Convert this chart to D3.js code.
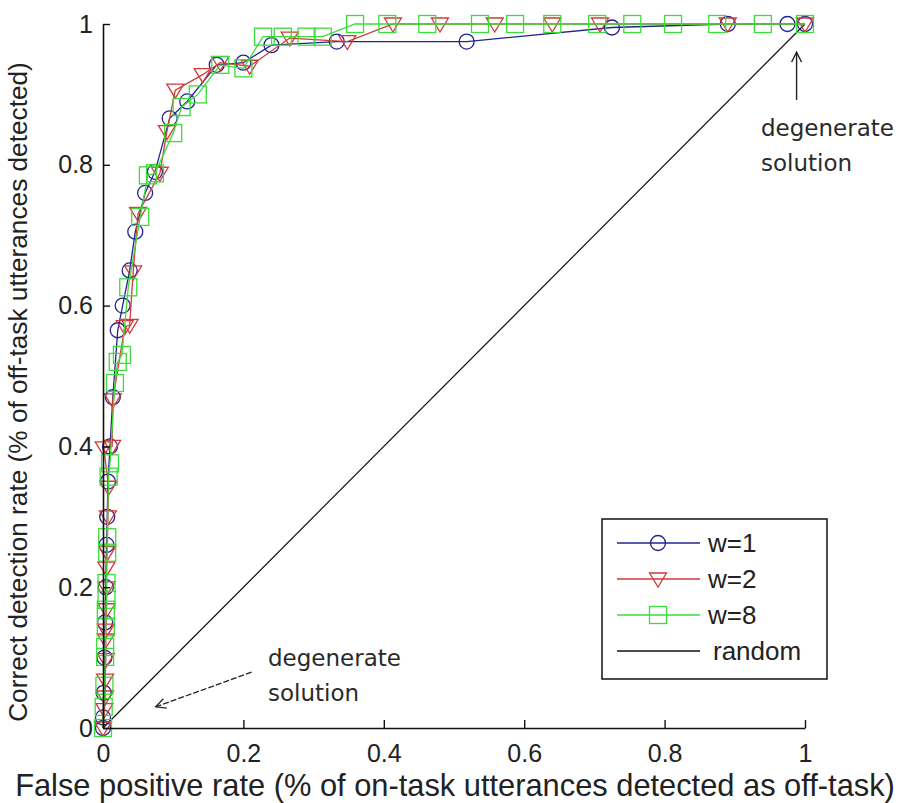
<!DOCTYPE html>
<html>
<head>
<meta charset="utf-8">
<script src="https://cdn.jsdelivr.net/npm/d3@7"></script>
<style>
  html, body { margin: 0; padding: 0; background: #fff; }
  svg { display: block; }
  text { font-family: "Liberation Sans", Arial, sans-serif; fill: #222; }
  .note { font-family: "DejaVu Sans", "Noto Sans", sans-serif; fill: #2a2a2a; }
</style>
</head>
<body>
<div id="chart"></div>
<script>
// ROC curves: [false positive rate, detection rate]
const w1Points = [
  [0, 0], [0, 0.015], [0.001, 0.05], [0.002, 0.1], [0.003, 0.15], [0.004, 0.2],
  [0.005, 0.26], [0.006, 0.3], [0.007, 0.35], [0.01, 0.4], [0.014, 0.47],
  [0.021, 0.565], [0.028, 0.6], [0.038, 0.65], [0.046, 0.705], [0.06, 0.76],
  [0.074, 0.79], [0.095, 0.866], [0.12, 0.89], [0.162, 0.942], [0.2, 0.945],
  [0.24, 0.97], [0.333, 0.975], [0.518, 0.975], [0.725, 0.995], [0.89, 1],
  [0.975, 1], [1, 1]
];
const w2Points = [
  [0, 0], [0.002, 0.026], [0.003, 0.044], [0.003, 0.068], [0.004, 0.097],
  [0.004, 0.125], [0.004, 0.139], [0.005, 0.168], [0.005, 0.199], [0.005, 0.227],
  [0.006, 0.249], [0.007, 0.3], [0.008, 0.342], [0.001, 0.398], [0.013, 0.4],
  [0.014, 0.466], [0.031, 0.57], [0.038, 0.572], [0.043, 0.648], [0.05, 0.731],
  [0.081, 0.788], [0.091, 0.847], [0.103, 0.906], [0.142, 0.928], [0.167, 0.945],
  [0.209, 0.94], [0.266, 0.98], [0.348, 0.975], [0.413, 1], [0.48, 1],
  [0.558, 1], [0.64, 1], [0.708, 1], [0.89, 1], [1, 1]
];
const w8Points = [
  [0, 0], [0.001, 0.03], [0.002, 0.06], [0.003, 0.101], [0.003, 0.115],
  [0.004, 0.143], [0.004, 0.168], [0.005, 0.182], [0.005, 0.206], [0.006, 0.249],
  [0.006, 0.271], [0.008, 0.357], [0.01, 0.376], [0.017, 0.49], [0.021, 0.52],
  [0.027, 0.53], [0.036, 0.626], [0.053, 0.726], [0.064, 0.785], [0.074, 0.788],
  [0.1, 0.845], [0.112, 0.882], [0.135, 0.9], [0.167, 0.942], [0.2, 0.937],
  [0.228, 0.982], [0.256, 0.982], [0.29, 0.982], [0.313, 0.982], [0.359, 1],
  [0.405, 1], [0.462, 1], [0.537, 1], [0.587, 1], [0.64, 1], [0.704, 1],
  [0.754, 1], [0.812, 1], [0.875, 1], [0.94, 1], [1, 1]
];
const randomPoints = [[0, 0], [1, 1]];

const seriesNames = ['w=1', 'w=2', 'w=8', 'random'];
const tickValues = [0, 0.2, 0.4, 0.6, 0.8, 1];
const xTitle = 'False positive rate (% of on-task utterances detected as off-task)';
const yTitle = 'Correct detection rate (% of off-task utterances detected)';
const noteText = ['degenerate', 'solution'];

const width = 909, height = 803;
const plot = { left: 103, right: 805, top: 24, bottom: 728 };

const x = d3.scaleLinear().domain([0, 1]).range([plot.left, plot.right]);
const y = d3.scaleLinear().domain([0, 1]).range([plot.bottom, plot.top]);

const svg = d3.select('#chart').append('svg')
  .attr('width', width)
  .attr('height', height);

// --- series styles ---
const series = [
  { name: seriesNames[0], pts: w1Points, color: '#23238f', marker: 'circle' },
  { name: seriesNames[1], pts: w2Points, color: '#d23a3a', marker: 'triangle' },
  { name: seriesNames[2], pts: w8Points, color: '#3cdc3c', marker: 'square' }
];

function drawMarker(g, type, color) {
  if (type === 'circle') {
    g.append('circle').attr('r', 7.5)
      .attr('fill', 'none').attr('stroke', color).attr('stroke-width', 1.3);
  } else if (type === 'triangle') {
    g.append('path').attr('d', 'M-8.5,-6 L8.5,-6 L0,8 Z')
      .attr('fill', 'none').attr('stroke', color).attr('stroke-width', 1.3);
  } else {
    g.append('rect').attr('x', -8.5).attr('y', -8.5).attr('width', 17).attr('height', 17)
      .attr('fill', 'none').attr('stroke', color).attr('stroke-width', 1.3);
  }
}

const line = d3.line().x(d => x(d[0])).y(d => y(d[1]));

// random diagonal
svg.append('path')
  .datum(randomPoints)
  .attr('fill', 'none')
  .attr('stroke', '#111')
  .attr('stroke-width', 1.2)
  .attr('d', line);

series.forEach(s => {
  svg.append('path')
    .datum(s.pts)
    .attr('fill', 'none')
    .attr('stroke', s.color)
    .attr('stroke-width', 1.3)
    .attr('d', line);
  svg.append('g').selectAll('g')
    .data(s.pts)
    .join('g')
    .attr('transform', d => `translate(${x(d[0])},${y(d[1])})`)
    .each(function() { drawMarker(d3.select(this), s.marker, s.color); });
});

// --- axes (left & bottom only, ticks inward) ---
const xAxis = svg.append('g')
  .attr('transform', `translate(0,${plot.bottom})`)
  .call(d3.axisTop(x).tickValues(tickValues).tickSize(8).tickSizeOuter(0).tickFormat(d3.format('~g')));
xAxis.select('.domain').attr('stroke', '#111').attr('stroke-width', 1.6);
xAxis.selectAll('.tick line').attr('stroke', '#111').attr('stroke-width', 1.4);
xAxis.selectAll('.tick text')
  .attr('y', 16).attr('dy', '0.71em')
  .attr('font-size', 25).attr('fill', '#222');

const yAxis = svg.append('g')
  .attr('transform', `translate(${plot.left},0)`)
  .call(d3.axisRight(y).tickValues(tickValues).tickSize(7).tickSizeOuter(0).tickFormat(d3.format('~g')));
yAxis.select('.domain').attr('stroke', '#111').attr('stroke-width', 1.6);
yAxis.selectAll('.tick line').attr('stroke', '#111').attr('stroke-width', 1.4);
yAxis.selectAll('.tick text')
  .attr('x', -10).attr('text-anchor', 'end')
  .attr('font-size', 25).attr('fill', '#222');
yAxis.attr('font-family', null);
xAxis.attr('font-family', null);

// --- axis titles, sized to span like the reference ---
function fitText(sel, target) {
  const len = sel.node().getComputedTextLength();
  const fs = parseFloat(sel.attr('font-size'));
  sel.attr('font-size', fs * target / len);
}
const xt = svg.append('text')
  .attr('x', 455).attr('y', 796)
  .attr('text-anchor', 'middle')
  .attr('font-size', 24)
  .text(xTitle);
fitText(xt, 880);

const yt = svg.append('text')
  .attr('transform', 'translate(27,392) rotate(-90)')
  .attr('text-anchor', 'middle')
  .attr('font-size', 24)
  .text(yTitle);
fitText(yt, 660);

// --- legend ---
const legend = svg.append('g').attr('transform', 'translate(602,519)');
legend.append('rect')
  .attr('width', 225).attr('height', 160)
  .attr('fill', '#fff').attr('stroke', '#111').attr('stroke-width', 1.5);

const legendItems = series.concat([{ name: seriesNames[3], color: '#111', marker: null }]);
legendItems.forEach((s, i) => {
  const row = legend.append('g').attr('transform', `translate(0,${24 + i * 36})`);
  row.append('line')
    .attr('x1', 15).attr('x2', 98)
    .attr('stroke', s.color).attr('stroke-width', 1.3);
  if (s.marker) {
    const m = row.append('g').attr('transform', 'translate(56,0)');
    drawMarker(m, s.marker, s.color);
  }
  row.append('text')
    .attr('x', s.marker ? 106 : 111)
    .attr('dy', '0.36em')
    .attr('font-size', 26)
    .text(s.name);
});

// --- annotations ---
const defs = svg.append('defs');
defs.append('marker')
  .attr('id', 'arrowhead')
  .attr('viewBox', '0 0 12 12')
  .attr('refX', 1).attr('refY', 6)
  .attr('markerWidth', 12).attr('markerHeight', 12)
  .attr('markerUnits', 'userSpaceOnUse')
  .attr('orient', 'auto')
  .append('path')
  .attr('d', 'M11,1 L1,6 L11,11')
  .attr('fill', 'none').attr('stroke', '#222').attr('stroke-width', 1.3);

// upper right: points at (1,1)
svg.append('line')
  .attr('x1', x(0.988)).attr('y1', y(0.96))
  .attr('x2', x(0.988)).attr('y2', 100)
  .attr('stroke', '#222').attr('stroke-width', 1.4)
  .attr('marker-start', 'url(#arrowhead)');
noteText.forEach((t, i) => {
  svg.append('text').attr('class', 'note')
    .attr('x', 761).attr('y', 136 + i * 35)
    .attr('font-size', 23)
    .text(t);
});

// lower left: points at (0,0)
svg.append('line')
  .attr('x1', x(0.075)).attr('y1', y(0.03))
  .attr('x2', 252).attr('y2', 672)
  .attr('stroke', '#222').attr('stroke-width', 1.3)
  .attr('stroke-dasharray', '6 2')
  .attr('marker-start', 'url(#arrowhead)');
noteText.forEach((t, i) => {
  svg.append('text').attr('class', 'note')
    .attr('x', 268).attr('y', 666 + i * 35)
    .attr('font-size', 23)
    .text(t);
});
</script>
</body>
</html>
